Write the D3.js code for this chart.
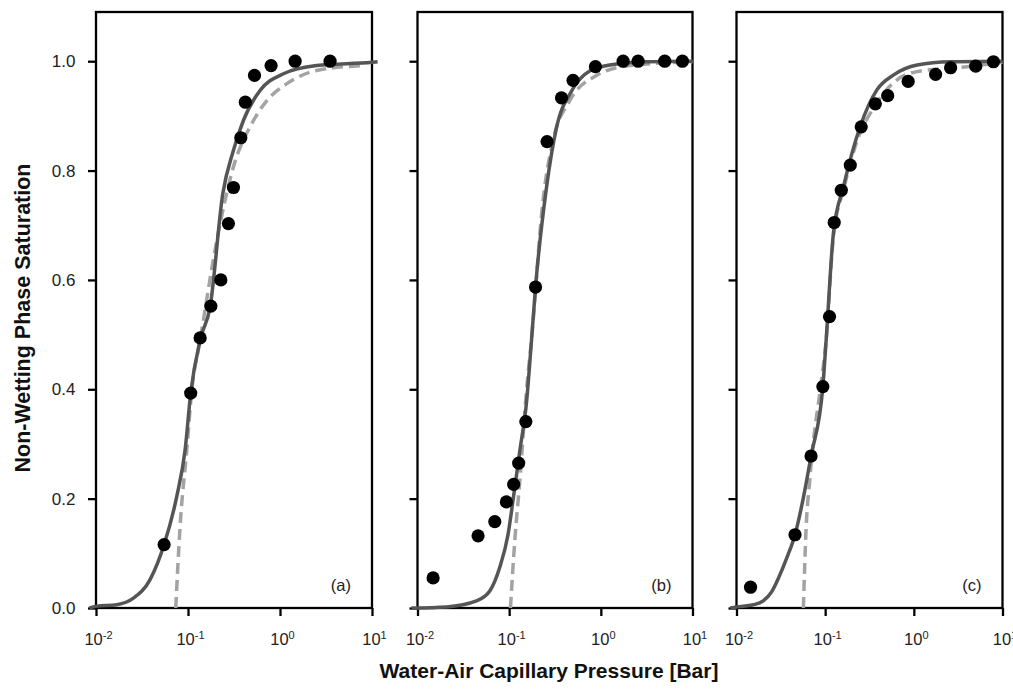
<html>
  <head>
    <title>Non-wetting phase saturation</title>
    <script type="text/javascript" src="https://cdn.jsdelivr.net/npm/d3@7"></script>
    <style>
      body { margin: 0; background: white; }
      svg { font-family: "Liberation Sans", Arial, sans-serif; }
    </style>
  </head>

  <body>
    <script type="text/javascript">
      // Size
      const w = 1013;
      const h = 689;

      // Measured points [pressure in bar, saturation]
      const pointsA = [[0.055, 0.116], [0.107, 0.393], [0.1355, 0.494], [0.177, 0.552], [0.2275, 0.600],
        [0.275, 0.703], [0.312, 0.769], [0.375, 0.860], [0.42, 0.925], [0.528, 0.974],
        [0.80, 0.992], [1.46, 1.0], [3.5, 1.0]];
      const pointsB = [[0.0148, 0.055], [0.0458, 0.132], [0.0697, 0.158], [0.0933, 0.194], [0.112, 0.226],
        [0.127, 0.265], [0.152, 0.341], [0.194, 0.587], [0.259, 0.853], [0.372, 0.933],
        [0.498, 0.965], [0.873, 0.99], [1.75, 1.0], [2.55, 1.0], [4.98, 1.0], [7.76, 1.0]];
      const pointsC = [[0.0144, 0.038], [0.0457, 0.134], [0.0693, 0.278], [0.0942, 0.405], [0.112, 0.533],
        [0.1265, 0.705], [0.152, 0.764], [0.192, 0.81], [0.255, 0.88], [0.368, 0.922],
        [0.507, 0.937], [0.863, 0.963], [1.76, 0.976], [2.6, 0.988], [4.99, 0.991], [7.9, 0.999]];

      // Solid fitted curves
      const solidA = [[0.0085, 0.0], [0.01, 0.003], [0.0168, 0.006], [0.0255, 0.018], [0.0387, 0.052],
        [0.055, 0.116], [0.0755, 0.204], [0.093, 0.289], [0.107, 0.393], [0.1355, 0.49],
        [0.174, 0.551], [0.239, 0.758], [0.312, 0.837], [0.401, 0.892], [0.61, 0.947],
        [1.09, 0.977], [2.5, 0.992], [10, 0.998], [11.5, 0.999]];
      const solidB = [[0.0086, 0.0], [0.0207, 0.002], [0.044, 0.013], [0.0614, 0.031], [0.0788, 0.074],
        [0.0973, 0.135], [0.110, 0.196], [0.1306, 0.287], [0.155, 0.378], [0.175, 0.488],
        [0.194, 0.587], [0.255, 0.768], [0.328, 0.878], [0.478, 0.945], [0.757, 0.982],
        [1.36, 0.994], [3.2, 0.999], [10, 1.0]];
      const solidC = [[0.0085, 0.0], [0.01, 0.002], [0.0155, 0.006], [0.02, 0.013], [0.025, 0.03],
        [0.03, 0.056], [0.037, 0.092], [0.0457, 0.134], [0.0568, 0.202], [0.0693, 0.278],
        [0.0942, 0.405], [0.1026, 0.49], [0.124, 0.686], [0.161, 0.771], [0.249, 0.881],
        [0.385, 0.948], [0.593, 0.975], [1.09, 0.993], [2.6, 0.999], [10, 1.0]];

      // Dashed fitted curves
      const dashA = [[0.0736, 0.0], [0.082, 0.149], [0.097, 0.289], [0.110, 0.399], [0.1355, 0.49],
        [0.206, 0.673], [0.312, 0.807], [0.494, 0.886], [0.72, 0.928], [1.19, 0.959],
        [2.5, 0.983], [8.1, 0.992]];
      const dashB = [[0.1033, 0.0], [0.115, 0.122], [0.1306, 0.232], [0.155, 0.40], [0.175, 0.49],
        [0.234, 0.745], [0.301, 0.855], [0.458, 0.928], [0.895, 0.974], [2.07, 0.992], [10, 0.999]];
      const dashC = [[0.0568, 0.0], [0.061, 0.147], [0.0664, 0.227], [0.0738, 0.306], [0.0877, 0.397],
        [0.1026, 0.49], [0.124, 0.68], [0.161, 0.765], [0.249, 0.87], [0.323, 0.905],
        [0.647, 0.966], [1.09, 0.981], [4.0, 0.990], [10, 0.998]];

      const panelLabels = ["(a)", "(b)", "(c)"];
      const xTicks = [0.01, 0.1, 1, 10];
      const xTickExp = ["-2", "-1", "0", "1"];
      const yTicks = [0, 0.2, 0.4, 0.6, 0.8, 1.0];

      const panels = [
        { left: 96, width: 276, points: pointsA, solid: solidA, dash: dashA },
        { left: 417.5, width: 275, points: pointsB, solid: solidB, dash: dashB },
        { left: 736.5, width: 266, points: pointsC, solid: solidC, dash: dashC }
      ];
      const plotTop = 12;
      const plotBottom = 608;

      const svg = d3.select("body")
        .append("svg")
        .attr("width", w)
        .attr("height", h);

      const yScale = d3.scaleLinear()
        .domain([0, 1.09])
        .range([plotBottom, plotTop]);

      panels.forEach(function (p, i) {
        const xScale = d3.scaleLog()
          .domain([0.01, 10])
          .range([p.left, p.left + p.width]);

        const g = svg.append("g");

        // Frame
        g.append("rect")
          .attr("x", p.left)
          .attr("y", plotTop)
          .attr("width", p.width)
          .attr("height", plotBottom - plotTop)
          .attr("fill", "none")
          .attr("stroke", "black")
          .attr("stroke-width", 2.3);

        // Y-akse
        const yAxis = d3.axisLeft(yScale)
          .tickValues(yTicks)
          .tickSize(8)
          .tickSizeOuter(0)
          .tickPadding(12.5)
          .tickFormat(i === 0 ? d3.format(".1f") : "");
        const ya = g.append("g")
          .attr("transform", "translate(" + p.left + ",0)")
          .call(yAxis);
        ya.select(".domain").remove();
        ya.selectAll("line").attr("stroke-width", 2.3);
        ya.selectAll("text").attr("font-size", 17).attr("fill", "#222").attr("font-family", null);

        // X-akse
        const xAxis = d3.axisBottom(xScale)
          .tickValues(xTicks)
          .tickSize(8)
          .tickSizeOuter(0)
          .tickFormat("");
        const xa = g.append("g")
          .attr("transform", "translate(0," + plotBottom + ")")
          .call(xAxis);
        xa.select(".domain").remove();
        xa.selectAll("line").attr("stroke-width", 2.3);
        xa.selectAll(".tick text").each(function (d, k) {
          const t = d3.select(this)
            .attr("font-size", 16.5)
            .attr("fill", "#222")
            .attr("font-family", null)
            .attr("dy", null)
            .attr("x", 2)
            .attr("y", 37);
          t.append("tspan").text("10");
          t.append("tspan").attr("dy", -6).attr("font-size", 11).text(xTickExp[k]);
        });

        const line = d3.line()
          .x(function (d) { return xScale(d[0]); })
          .y(function (d) { return yScale(d[1]); })
          .curve(d3.curveMonotoneX);

        g.append("path")
          .attr("d", line(p.dash))
          .attr("fill", "none")
          .attr("stroke", "#a3a3a3")
          .attr("stroke-width", 3.5)
          .attr("stroke-dasharray", "11,6");

        g.append("path")
          .attr("d", line(p.solid))
          .attr("fill", "none")
          .attr("stroke", "#555")
          .attr("stroke-width", 3.5);

        g.selectAll("circle")
          .data(p.points)
          .enter()
          .append("circle")
          .attr("cx", function (d) { return xScale(d[0]); })
          .attr("cy", function (d) { return yScale(d[1]); })
          .attr("r", 6.6)
          .attr("fill", "black");

        g.append("text")
          .attr("x", p.left + p.width - 21)
          .attr("y", 591)
          .attr("text-anchor", "end")
          .attr("font-size", 16.5)
          .attr("fill", "#222")
          .text(panelLabels[i]);
      });

      // Akse-titler
      svg.append("text")
        .attr("x", 549)
        .attr("y", 678)
        .attr("text-anchor", "middle")
        .attr("font-size", 21)
        .attr("font-weight", "bold")
        .attr("fill", "#111")
        .text("Water-Air Capillary Pressure [Bar]");

      svg.append("text")
        .attr("transform", "translate(30,318) rotate(-90)")
        .attr("text-anchor", "middle")
        .attr("font-size", 21.5)
        .attr("font-weight", "bold")
        .attr("fill", "#111")
        .text("Non-Wetting Phase Saturation");
    </script>
  </body>
</html>
